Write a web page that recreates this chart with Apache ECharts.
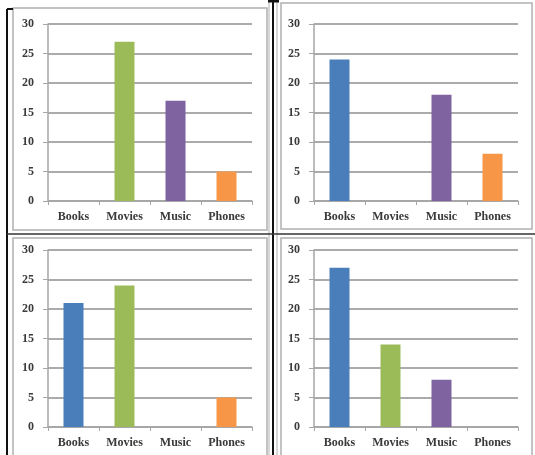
<!DOCTYPE html>
<html>
<head>
<meta charset="utf-8">
<script src="https://cdn.jsdelivr.net/npm/echarts@6/dist/echarts.min.js"></script>
<style>
html,body{margin:0;padding:0;background:#fff;}
#c{width:535px;height:455px;}
</style>
</head>
<body>
<div id="c"></div>
<script>
// ---- data ----
const categories = ['Books', 'Movies', 'Music', 'Phones'];
const yTicks = [0, 5, 10, 15, 20, 25, 30];
const panelTopLeft = [0, 27, 17, 5];
const panelTopRight = [24, 0, 18, 8];
const panelBottomLeft = [21, 24, 0, 5];
const panelBottomRight = [27, 14, 8, 0];
const categoryColors = ['#4a7ebb', '#9bbb59', '#7f63a1', '#f79646'];

// ---- layout (styles / positions) ----
const panels = [
  { data: panelTopLeft,     left: 48,  top: 24,  width: 204, height: 177 },
  { data: panelTopRight,    left: 314, top: 24,  width: 204, height: 177 },
  { data: panelBottomLeft,  left: 48,  top: 250, width: 204, height: 177 },
  { data: panelBottomRight, left: 314, top: 250, width: 204, height: 177 }
];
const font = "'Liberation Serif', 'DejaVu Serif', serif";
const txt = '#3a3a3a';

const grid = [], xAxis = [], yAxis = [], series = [];
panels.forEach((p, i) => {
  grid.push({ left: p.left, top: p.top, width: p.width, height: p.height, containLabel: false });
  xAxis.push({
    type: 'category', gridIndex: i, data: categories,
    boundaryGap: true,
    axisLine: { show: true, lineStyle: { color: '#a6a6a6', width: 1.5 } },
    axisTick: { show: true, length: 4, alignWithLabel: false, lineStyle: { color: '#a6a6a6' } },
    axisLabel: { color: txt, fontFamily: font, fontWeight: 'bold', fontSize: 12, margin: 10 },
    splitLine: { show: false }
  });
  yAxis.push({
    type: 'value', gridIndex: i,
    min: yTicks[0], max: yTicks[yTicks.length - 1], interval: yTicks[1] - yTicks[0],
    axisLine: { show: true, lineStyle: { color: '#a6a6a6', width: 1.5 } },
    axisTick: { show: true, length: 5, lineStyle: { color: '#a6a6a6' } },
    axisLabel: { color: txt, fontFamily: font, fontWeight: 'bold', fontSize: 12, margin: 14 },
    splitLine: { show: true, lineStyle: { color: '#8f8f8f', width: 1.5 } }
  });
  series.push({
    type: 'bar', xAxisIndex: i, yAxisIndex: i,
    barWidth: 20,
    data: p.data.map((v, k) => ({ value: v, itemStyle: { color: categoryColors[k] } })),
    silent: true
  });
});

// table frames / separators (decoration)
const gray = { stroke: '#b0b0b0', fill: null, lineWidth: 1.5 };
const black = { stroke: '#111', lineWidth: 2 };
const graphic = [
  { type: 'rect', shape: { x: 13, y: 8, width: 254, height: 222 }, style: gray, silent: true },
  { type: 'rect', shape: { x: 281, y: 3, width: 251, height: 226 }, style: gray, silent: true },
  { type: 'rect', shape: { x: 13, y: 238, width: 254, height: 230 }, style: gray, silent: true },
  { type: 'rect', shape: { x: 281, y: 238, width: 251, height: 230 }, style: gray, silent: true },
  { type: 'line', shape: { x1: 269, y1: 0, x2: 269, y2: 455 }, style: { stroke: '#b0b0b0', lineWidth: 1 }, silent: true },
  { type: 'line', shape: { x1: 277, y1: 0, x2: 277, y2: 455 }, style: { stroke: '#b0b0b0', lineWidth: 1 }, silent: true },
  { type: 'line', shape: { x1: 7, y1: 9, x2: 7, y2: 455 }, style: black, silent: true },
  { type: 'line', shape: { x1: 7, y1: 9, x2: 13, y2: 9 }, style: black, silent: true },
  { type: 'line', shape: { x1: 273, y1: 0, x2: 273, y2: 455 }, style: black, silent: true },
  { type: 'line', shape: { x1: 268, y1: 1, x2: 279, y2: 1 }, style: { stroke: '#111', lineWidth: 3 }, silent: true },
  { type: 'line', shape: { x1: 7, y1: 234, x2: 535, y2: 234 }, style: { stroke: '#333', lineWidth: 1.5 }, silent: true }
];

const chart = echarts.init(document.getElementById('c'), null, { renderer: 'canvas' });
chart.setOption({
  animation: false,
  backgroundColor: '#ffffff',
  grid, xAxis, yAxis, series, graphic
});
</script>
</body>
</html>
